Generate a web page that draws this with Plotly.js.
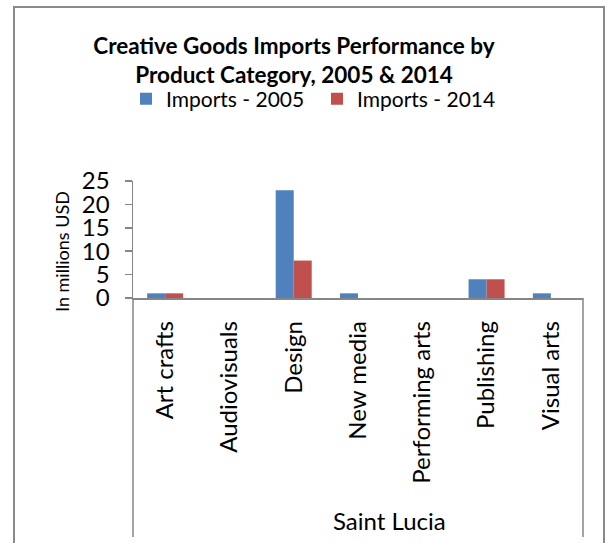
<!DOCTYPE html>
<html>
<head>
<meta charset="utf-8">
<script src="https://cdn.plot.ly/plotly-3.0.1.min.js"></script>
<style>html,body{margin:0;padding:0;background:#fff;}#chart{width:610px;height:543px;}</style>
</head>
<body>
<div id="chart"></div>
<script>
const categories = ["Art crafts", "Audiovisuals", "Design", "New media", "Performing arts", "Publishing", "Visual arts"];
const imports2005 = [1, 0, 23, 1, 0, 4, 1];
const imports2014 = [1, 0, 8, 0, 0, 4, 0];
const seriesNames = ["Imports - 2005", "Imports - 2014"];
const groupLabel = "Saint Lucia";
const yTicks = [0, 5, 10, 15, 20, 25];

const W = 610, H = 543;
const M = {l: 133, r: 27, t: 181, b: 245};
const pw = W - M.l - M.r, ph = H - M.t - M.b;
const px = x => (x - M.l) / pw;
const py = y => (H - M.b - y) / ph;
const FONT = "Lato, 'Open Sans', sans-serif";
const AX = "#868686";

const traces = [
  {type: "bar", name: seriesNames[0], x: categories, y: imports2005, marker: {color: "#4F81BD"}},
  {type: "bar", name: seriesNames[1], x: categories, y: imports2014, marker: {color: "#C0504D"}}
];

const layout = {
  width: W, height: H,
  margin: M,
  paper_bgcolor: "#fff", plot_bgcolor: "#fff",
  font: {family: FONT, color: "#000"},
  barmode: "group", bargap: 0.44, bargroupgap: 0,
  showlegend: true,
  legend: {orientation: "h", x: px(126), xanchor: "left", y: py(99), yanchor: "middle",
           font: {size: 21, family: FONT}, entrywidth: 146, entrywidthmode: "pixels",
           bgcolor: "rgba(0,0,0,0)", traceorder: "normal"},
  title: {text: "<b>Creative Goods Imports Performance by<br>Product Category, 2005 & 2014</b>",
          x: px(294), xanchor: "center", xref: "paper", y: 1 - 54 / H, yanchor: "middle",
          font: {size: 22.5, family: FONT}},
  xaxis: {type: "category", showline: true, linecolor: AX, linewidth: 1.5, ticks: "",
          tickangle: -90, tickfont: {size: 24, family: FONT}, ticklabelstandoff: 12,
          showgrid: false, zeroline: false, fixedrange: true},
  yaxis: {range: [0, 25], tickvals: yTicks, showline: true, linecolor: AX, linewidth: 1.5,
          ticks: "outside", ticklen: 7, tickcolor: AX, tickwidth: 1.5,
          tickfont: {size: 24, family: FONT}, ticklabelstandoff: 10,
          showgrid: false, zeroline: false, fixedrange: true},
  annotations: [
    {text: "In millions USD", textangle: -90, xref: "paper", yref: "paper", x: px(62), y: py(252),
     xanchor: "center", yanchor: "middle", showarrow: false, font: {size: 18, family: FONT}},
    {text: groupLabel, xref: "paper", yref: "paper", x: px(389), y: py(520),
     xanchor: "center", yanchor: "middle", showarrow: false, font: {size: 24, family: FONT}}
  ],
  shapes: [
    {type: "rect", xref: "paper", yref: "paper", x0: px(14), x1: px(604), y0: py(7), y1: py(570),
     line: {color: "#8a8a8a", width: 2}},
    {type: "line", xref: "paper", yref: "paper", x0: 0, x1: 0, y0: 0, y1: py(537), line: {color: AX, width: 1.5}},
    {type: "line", xref: "paper", yref: "paper", x0: 1, x1: 1, y0: 0, y1: py(537), line: {color: AX, width: 1.5}}
  ]
};

Plotly.newPlot("chart", traces, layout, {displayModeBar: false, staticPlot: true});
</script>
</body>
</html>
